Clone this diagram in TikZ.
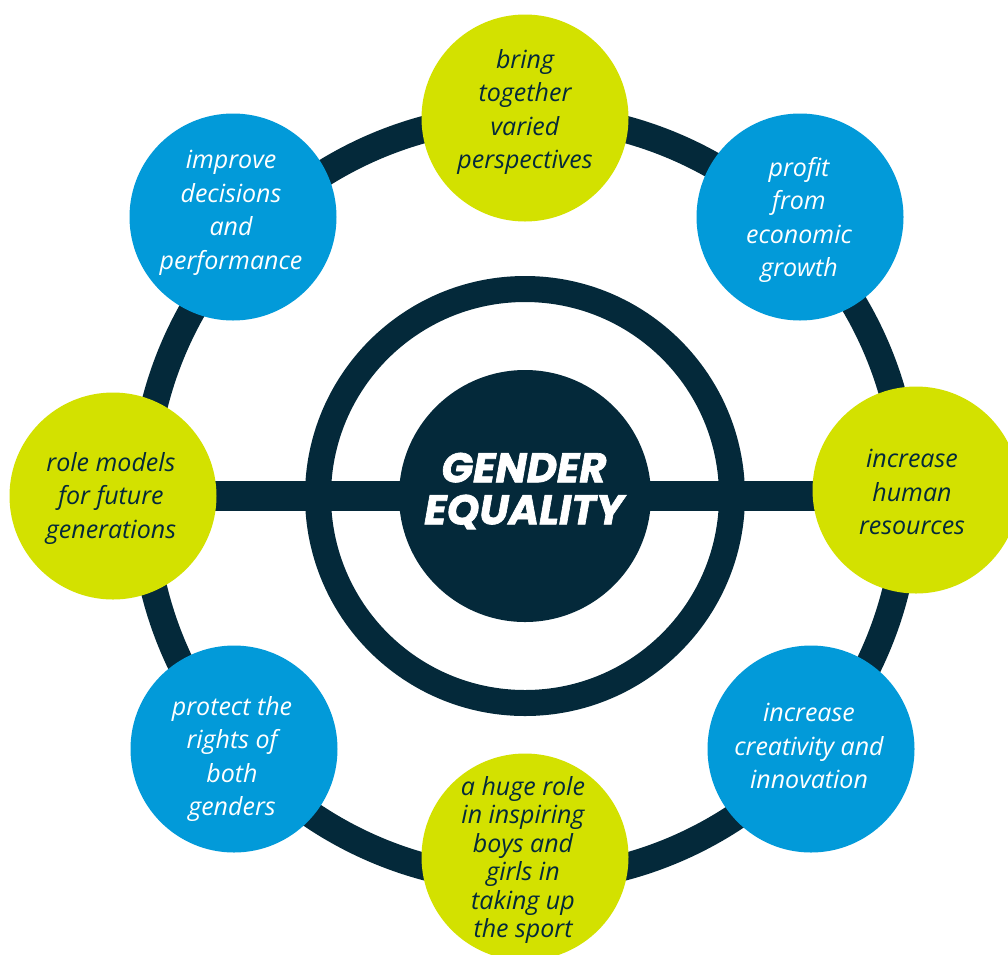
\documentclass[tikz,border=0pt]{standalone}
\usepackage{fontspec}
\setmainfont{Open Sans}
\newfontfamily\titlefont{Poppins}[FakeBold=1.6]
\definecolor{navy}{HTML}{04293A}
\definecolor{skyblue}{HTML}{029AD9}
\definecolor{lime}{HTML}{D3E100}
\pgfdeclarelayer{back}
\pgfdeclarelayer{paper}
\pgfsetlayers{paper,back,main}
\tikzset{
  bubble/.style={circle, minimum size=207pt, inner sep=0pt, draw=none},
  limebubble/.style={bubble, fill=lime},
  bluebubble/.style={bubble, fill=skyblue},
  txt/.style={align=center, inner sep=0pt, font=\itshape\fontsize{25}{33.5}\selectfont},
  darktxt/.style={txt, text=navy},
  lighttxt/.style={txt, text=white},
  ring/.style={draw=navy, line width=27pt},
  innerring/.style={draw=navy, line width=26pt},
  bar/.style={draw=navy, line width=30pt},
}
\begin{document}
\begin{tikzpicture}[x=1pt,y=-1pt]
\useasboundingbox (0,0) rectangle (1008,954);
\clip (0,0) rectangle (1008,954);
\begin{pgfonlayer}{paper}
\fill[white] (0,0) rectangle (1008,954);
\end{pgfonlayer}
\coordinate (c) at (525,496);
\coordinate (oc) at (525,498);
% bubbles
\node[limebubble] (top) at (525,118) {};
\node[bluebubble] (topright) at (800,217) {};
\node[limebubble] (right) at (916,490) {};
\node[bluebubble] (bottomright) at (811,749) {};
\node[limebubble] (bottom) at (525,857) {};
\node[bluebubble] (bottomleft) at (234,749) {};
\node[limebubble] (left) at (113,496) {};
\node[bluebubble] (topleft) at (233,217) {};
% centre disc
\node[circle, fill=navy, minimum size=252pt, inner sep=0pt] (core) at (c) {};
% rings and bar behind the bubbles
\begin{pgfonlayer}{back}
\draw[ring] (oc) circle[radius=382pt];
\draw[innerring] (c) circle[radius=207pt];
\coordinate (barend) at (left.east -| right.center);
\draw[bar] (left.center) -- (barend);
\end{pgfonlayer}
\node[text=white, align=center, inner sep=0pt,
      font=\titlefont\bfseries\itshape\fontsize{41.5}{42}\selectfont] (title) at (524,491) {GENDER\\EQUALITY};
% texts
\node[darktxt] (ttop) at (525,112) {bring\\together\\varied\\perspectives};
\node[lighttxt] (ttopright) at (799,220) {profit\\from\\economic\\growth};
\node[darktxt] (tright) at (912,492) {increase\\human\\resources};
\node[lighttxt] (tbottomright) at (809,746) {increase\\creativity and\\innovation};
\node[darktxt, font=\itshape\fontsize{25}{28.5}\selectfont] (tbottom) at (523,860) {a huge role\\in inspiring\\boys and\\girls in\\taking up\\the sport};
\node[lighttxt] (tbottomleft) at (232,759) {protect the\\rights of\\both\\genders};
\node[darktxt] (tleft) at (111,498) {role models\\for future\\generations};
\node[lighttxt] (ttopleft) at (231,213) {improve\\decisions\\and\\performance};
\end{tikzpicture}
\end{document}
